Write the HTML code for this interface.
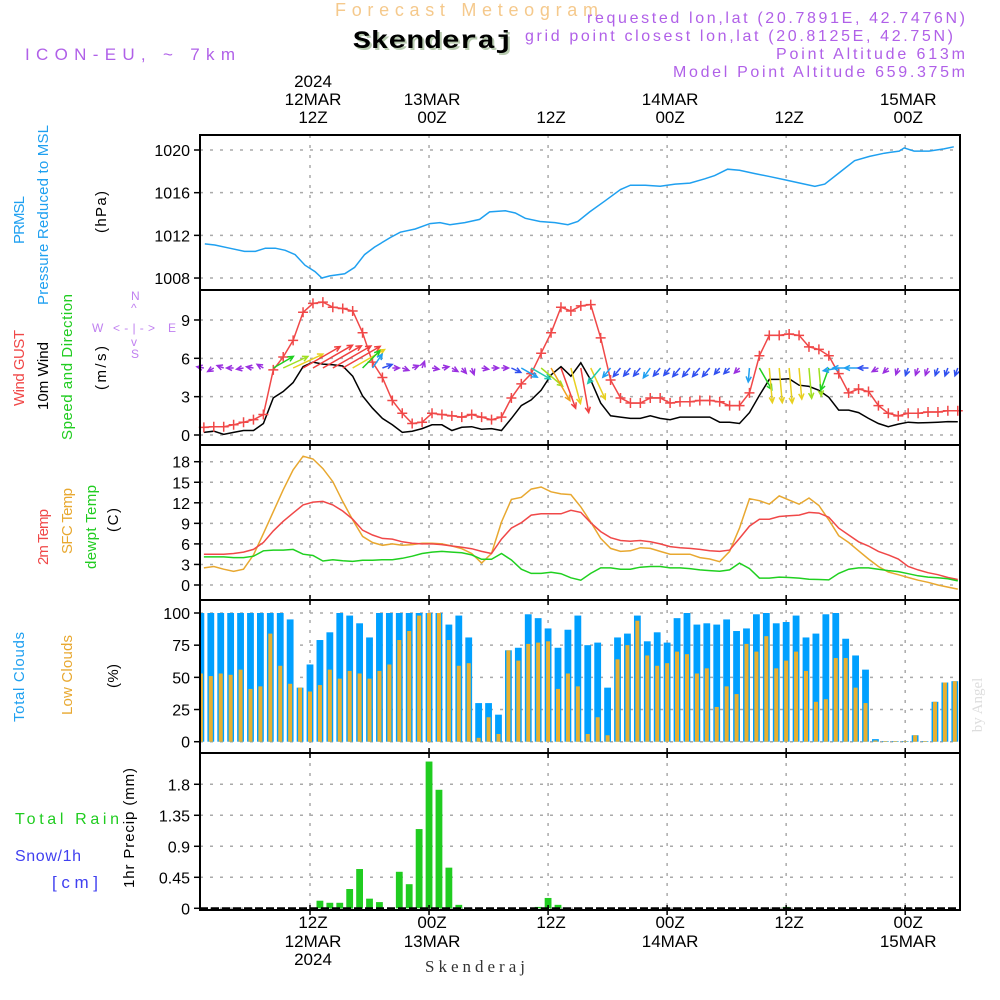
<!DOCTYPE html>
<html><head><meta charset="utf-8"><style>
html,body{margin:0;padding:0;background:#fff;}
svg{display:block;font-family:"Liberation Sans",sans-serif;}
</style></head><body>
<svg id="chart" width="1000" height="1000" viewBox="0 0 1000 1000" xmlns="http://www.w3.org/2000/svg">
<rect width="1000" height="1000" fill="#fff"/>
<g>
<text x="335" y="16" font-size="18" fill="#f5c98c" textLength="263" lengthAdjust="spacing">Forecast Meteogram</text>
<text x="355" y="50" font-family="Liberation Mono,monospace" font-weight="bold" font-size="25" fill="#b8cbb0" textLength="160" lengthAdjust="spacingAndGlyphs">Skenderaj</text>
<text x="353" y="48" font-family="Liberation Mono,monospace" font-weight="bold" font-size="25" fill="#000" textLength="160" lengthAdjust="spacingAndGlyphs">Skenderaj</text>
<text x="25" y="60" font-size="17" fill="#b060e8" textLength="210" lengthAdjust="spacing">ICON-EU, ~ 7km</text>
<text x="587" y="23" font-size="16" fill="#b060e8" textLength="378" lengthAdjust="spacing">requested lon,lat (20.7891E, 42.7476N)</text>
<text x="525" y="41" font-size="16" fill="#b060e8" textLength="428" lengthAdjust="spacing">grid point closest lon,lat (20.8125E, 42.75N)</text>
<text x="776" y="59" font-size="16" fill="#b060e8" textLength="189" lengthAdjust="spacing">Point Altitude 613m</text>
<text x="673" y="77" font-size="16" fill="#b060e8" textLength="292" lengthAdjust="spacing">Model Point Altitude 659.375m</text>
</g>
<g id="side" font-size="15"></g>
<g id="plot"></g>
<text transform="translate(982,705) rotate(-90)" text-anchor="middle" font-family="Liberation Serif,serif" font-size="15" fill="#ddd">by Angel</text>
<text x="475" y="972" text-anchor="middle" font-family="Liberation Serif,serif" font-size="17" fill="#333" textLength="100" lengthAdjust="spacing">Skenderaj</text>
</svg>
<script>
// ---- data (hour index 1..77 from 00Z 12MAR) ----
const hours = Array.from({length:77},(_,k)=>k+1);
const presHours = [1.4,2.4,3.9,5.4,6.5,7.5,8.5,9.5,10.5,11.5,12.5,13.2,14,15.5,16.5,17.5,18.5,20.1,21.1,22.6,24.1,25.1,26.1,27.6,29.1,30.1,31.7,32.7,33.7,35.2,36.7,38,39,40.2,41.7,43.3,44.3,45.8,47.3,48.8,50.3,51.8,52.8,54.1,55.3,56.8,58.4,59.9,61.4,62.9,63.9,65.4,66.9,68.4,69.9,71.4,71.9,72.9,74.4,75.9,76.9];
const pressure = [1011.2,1011.1,1010.8,1010.5,1010.5,1010.8,1010.8,1010.6,1010.2,1009.2,1008.6,1008.0,1008.2,1008.4,1009.0,1010.2,1010.9,1011.8,1012.3,1012.6,1013.1,1013.2,1013.0,1013.2,1013.5,1014.2,1014.3,1014.1,1013.6,1013.3,1013.2,1013.0,1013.3,1014.2,1015.2,1016.3,1016.7,1016.7,1016.6,1016.8,1016.9,1017.3,1017.6,1018.2,1018.1,1017.8,1017.5,1017.2,1016.9,1016.6,1016.8,1017.9,1019.0,1019.4,1019.7,1019.9,1020.2,1019.9,1019.9,1020.1,1020.3];
const gust = [0.6,0.65,0.65,0.8,1.0,1.2,1.6,5.1,6.1,7.4, 9.6,10.3,10.4,10.0,9.9,9.7,8.0,5.7,4.5,2.7, 1.7,0.9,1.0,1.7,1.6,1.5,1.4,1.6,1.4,1.2, 1.4,2.9,4.0,4.8,6.4,8.0,10.0,9.7,10.1,10.2, 7.6,4.3,2.9,2.5,2.5,2.9,2.9,2.5,2.6,2.6, 2.7,2.7,2.6,2.3,2.3,3.3,6.2,7.8,7.8,7.9, 7.8,6.9,6.7,6.2,4.8,3.3,3.6,3.4,2.3,1.7, 1.5,1.7,1.7,1.8,1.8,1.9,1.9];
const wind = [0.2,0.3,0.05,0.2,0.35,0.35,0.9,2.9,3.4,4.1, 5.35,5.7,5.55,5.5,5.4,4.6,3.05,2.1,1.3,0.8, 0.2,0.3,0.5,0.8,0.8,0.35,0.6,0.65,0.45,0.5, 0.35,1.3,2.3,2.75,3.5,4.7,5.35,4.6,5.65,4.3, 2.5,1.5,1.4,1.3,1.3,1.5,1.3,1.2,1.4,1.4, 1.4,1.4,1.0,1.0,0.9,1.75,3.1,4.35,4.35,4.4, 3.9,3.8,3.5,2.95,1.95,1.95,1.75,1.3,0.9,0.65, 0.85,1.0,0.95,0.97,1.0,1.05,1.03];
const windDir = [100,60,110,90,80,100,120,240,245,245, 240,240,240,240,240,240,225,215,250,270, 290,250,200,280,260,300,320,340,280,270, 270,295,300,300,310,330,340,345,350,335, 40,40,40,40,40,35,40,40,40,40, 40,40,40,45,45,5,330,355,355,355, 355,355,355,20,80,90,90,90,60,45, 20,20,20,20,20,20,20];
const temp2m = [4.5,4.5,4.5,4.6,4.8,5.2,6.2,7.9,9.3,10.5, 11.7,12.1,12.2,11.7,10.8,9.6,8.0,7.3,6.8,6.7, 6.3,6.1,6.0,6.0,5.9,5.7,5.5,5.3,4.9,4.6, 6.7,8.3,9.1,10.2,10.4,10.4,10.4,10.9,10.6,9.1, 7.8,6.9,6.5,6.4,6.5,6.3,6.0,5.6,5.45,5.35, 5.2,5.0,4.9,5.1,6.8,8.6,9.6,9.6,10.0,10.1, 10.2,10.6,10.5,9.9,8.3,7.3,6.3,5.7,4.9,4.4, 3.8,2.7,2.2,1.8,1.5,1.1,0.8];
const tempSfc = [2.5,2.7,2.3,2.0,2.3,4.4,7.5,10.7,13.9,16.8, 18.8,18.4,17.0,15.1,12.2,9.5,7.1,6.2,5.8,6.0, 5.8,5.9,6.1,6.1,6.0,5.7,5.3,4.6,3.2,4.6, 9.2,12.5,12.8,14.0,14.3,13.6,13.3,13.2,11.4,9.2, 6.8,5.35,4.9,5.0,5.45,5.35,4.9,4.5,4.5,4.5, 4.0,3.8,3.4,4.9,8.3,12.6,12.3,11.8,13.0,12.4, 11.8,12.7,11.6,9.5,7.2,6.2,5.0,3.8,2.7,1.9, 1.5,1.1,0.7,0.4,0,-0.3,-0.6];
const dewpt = [4.1,4.1,4.1,4.0,4.0,4.2,5.0,5.1,5.1,5.2, 4.5,4.3,3.5,3.7,3.55,3.45,3.6,3.6,3.7,3.7, 3.9,4.2,4.6,4.8,4.9,4.8,4.7,4.4,3.75,3.75, 4.6,3.65,2.3,1.7,1.7,1.85,1.65,1.05,0.7,1.7, 2.5,2.5,2.3,2.3,2.6,2.7,2.7,2.5,2.5,2.4, 2.2,2.1,2.0,2.2,3.2,2.4,1.0,1.0,1.15,1.1, 1.0,0.85,0.8,0.75,1.7,2.3,2.5,2.5,2.3,2.1, 1.95,1.65,1.35,1.15,1.05,0.9,0.6];
const totalClouds = [100,100,100,100,100,100,100,100,100,95, 42,60,79,85,100,98,92,81,100,100, 100,100,100,100,100,91,98,81,30,30, 21,71,73,99,96,88,73,87,98,75, 77,42,81,84,98,78,85,77,96,100, 91,92,91,95,86,88,99,100,92,93, 98,81,84,99,100,80,67,56,2,0.5, 0.5,0.5,5,0.5,31,46,47];
const lowClouds = [53,51,53,52,56,41,43,84,59,45, 42,39,44,56,49,55,53,49,55,60, 79,86,98,100,100,79,59,61,3,19, 6,71,63,76,77,78,41,53,43,6, 19,5,64,75,94,67,59,61,70,68, 53,57,27,43,37,76,70,82,57,63, 70,55,31,33,65,65,42,30,1,0.5, 0.5,0.5,5,0.5,31,46,47];
const precip = [0,0,0,0,0,0,0,0,0,0, 0,0,0.11,0.08,0.08,0.28,0.57,0.14,0.09,0, 0.53,0.35,1.15,2.13,1.72,0.59,0.05,0,0,0, 0,0,0,0,0.02,0.15,0.05,0,0,0, 0,0,0,0,0,0,0,0,0,0, 0,0,0,0,0,0,0,0,0,0.02, 0,0,0,0,0,0,0,0,0,0, 0,0,0,0,0,0,0];
const presTicks = [1008,1012,1016,1020];
const windTicks = [0,3,6,9];
const tempTicks = [0,3,6,9,12,15,18];
const cloudTicks = [0,25,50,75,100];
const precipTicks = [0,0.45,0.9,1.35,1.8];
const precipTickLabels = ["0","0.45","0.9","1.35","1.8"];
const timeHours = [12,24,36,48,60,72];
const timeTop = [["2024","12MAR","12Z"],["","13MAR","00Z"],["","","12Z"],["","14MAR","00Z"],["","","12Z"],["","15MAR","00Z"]];
const timeBottom = [["12Z","12MAR","2024"],["00Z","13MAR",""],["12Z","",""],["00Z","14MAR",""],["12Z","",""],["00Z","15MAR",""]];

// ---- scales ----
const NS="http://www.w3.org/2000/svg";
const X0=200,X1=960;
const xs=h=>310+(h-12)*9.92;
const lineH=i=>i+0.3;
const yPres=v=>150+(1020-v)*10.67;
const yWind=v=>435-v*12.78;
const yTemp=v=>585-v*6.85;
const yCloud=v=>741.7-v*1.287;
const yPrec=v=>908.3-v*68.9;
const panels=[[135,290],[290,445],[445,600],[600,753],[753,910]];

const plot=document.getElementById('plot');
const side=document.getElementById('side');
function mk(tag,attrs,parent){const e=document.createElementNS(NS,tag);for(const k in attrs)e.setAttribute(k,attrs[k]);(parent||plot).appendChild(e);return e;}

const defs=mk('defs',{});
panels.forEach((p,k)=>{const c=mk('clipPath',{id:'clip'+k},defs);mk('rect',{x:X0,y:p[0],width:X1-X0,height:p[1]-p[0]},c);});

function hgrid(ticks,yf,k,labels){
  ticks.forEach((t,j)=>{
    const y=yf(t);
    const g=mk('line',{x1:X0,x2:X1,y1:y,y2:y,stroke:'#aaa','stroke-width':1.5,'stroke-dasharray':'3,7'});
    
    
    const tk=mk('line',{x1:X0-6,x2:X0,y1:y,y2:y,stroke:'#000','stroke-width':1.5});
    
    
    const tx=mk('text',{x:190,y:y+6,'text-anchor':'end','font-size':16,fill:'#000'});
    
    
    tx.textContent=labels?labels[j]:String(t);
  });
}
panels.forEach((p,k)=>{
  timeHours.forEach(h=>{
    const v=mk('line',{x1:xs(h),x2:xs(h),y1:p[0],y2:p[1],stroke:'#aaa','stroke-width':1.5,'stroke-dasharray':'3,7'});
    
    
  });
});
hgrid(presTicks,yPres,0);
hgrid(windTicks,yWind,1);
hgrid(tempTicks,yTemp,2);
hgrid(cloudTicks,yCloud,3);
hgrid(precipTicks,yPrec,4,precipTickLabels);

function line(hs,vals,yf,color,name,clip){
  const d=vals.map((v,j)=>(j?'L':'M')+xs(hs[j]).toFixed(1)+','+yf(v).toFixed(1)).join('');
  const p=mk('path',{d:d,fill:'none',stroke:color,'stroke-width':1.5,'clip-path':'url(#clip'+clip+')'});
  
  
  return p;
}
line(presHours,pressure,yPres,'#1fa0f0','pressure-line',0);

line(hours.map(lineH),wind,yWind,'#000','wind-speed-line',1);
line(hours.map(lineH),gust,yWind,'#f04848','wind-gust-line',1);
gust.forEach((v,j)=>{
  const x=xs(lineH(hours[j])),y=yWind(v);
  const m=mk('path',{d:`M${x-5},${y}H${x+5}M${x},${y-5}V${y+5}`,stroke:'#f04848','stroke-width':1.5});
  
  
});
function wcol(s){if(s<1)return'#9a30e0';if(s<1.5)return'#3050f0';if(s<2.4)return'#20a0f0';if(s<2.9)return'#20c8b0';if(s<3.3)return'#20d020';if(s<3.9)return'#a0e020';if(s<4.7)return'#e8d020';if(s<5.2)return'#f0a020';return'#f04040';}
wind.forEach((s,j)=>{
  const d=windDir[j]*Math.PI/180;
  const L=Math.max(7,8*s);
  const x0=xs(lineH(hours[j])),y0=368;
  const ux=-Math.sin(d),uy=Math.cos(d);
  const x1=x0+ux*L,y1=y0+uy*L;
  const a=0.45,hl=6;
  const bx=-ux,by=-uy;
  const h1x=x1+hl*(bx*Math.cos(a)-by*Math.sin(a)),h1y=y1+hl*(bx*Math.sin(a)+by*Math.cos(a));
  const h2x=x1+hl*(bx*Math.cos(-a)-by*Math.sin(-a)),h2y=y1+hl*(bx*Math.sin(-a)+by*Math.cos(-a));
  const ar=mk('path',{d:`M${x0},${y0}L${x1},${y1}M${h1x},${h1y}L${x1},${y1}L${h2x},${h2y}`,fill:'none',stroke:wcol(s),'stroke-width':1.5});
  
  
});

line(hours.map(lineH),tempSfc,yTemp,'#e8a830','sfc-temp-line',2);
line(hours.map(lineH),temp2m,yTemp,'#f04848','temp-2m-line',2);
line(hours.map(lineH),dewpt,yTemp,'#20d020','dewpoint-line',2);

totalClouds.forEach((v,j)=>{
  const x=xs(hours[j]);
  const b=mk('rect',{x:x-3.4,y:yCloud(v),width:6.8,height:yCloud(0)-yCloud(v),fill:'#00a0ff','clip-path':'url(#clip3)'});
  
  
});
lowClouds.forEach((v,j)=>{
  const x=xs(hours[j]);
  const b=mk('rect',{x:x-2,y:yCloud(v),width:4,height:yCloud(0)-yCloud(v),fill:'#e8b030','clip-path':'url(#clip3)'});
  
  
});

precip.forEach((v,j)=>{
  if(v<=0)return;
  const x=xs(hours[j]);
  const b=mk('rect',{x:x-3.4,y:yPrec(v),width:6.8,height:yPrec(0)-yPrec(v),fill:'#20cc20'});
  
  
});
const zl=mk('line',{x1:X0,x2:X1,y1:908.3,y2:908.3,stroke:'#000','stroke-width':2,'stroke-dasharray':'8,3'});



panels.forEach(p=>{
  const r=mk('rect',{x:X0,y:p[0],width:X1-X0,height:p[1]-p[0],fill:'none',stroke:'#000','stroke-width':2});
  
  
  timeHours.forEach(h=>{
    const t=mk('line',{x1:xs(h),x2:xs(h),y1:p[1]-5,y2:p[1]+5,stroke:'#000','stroke-width':1.5});
    
    
  });
});

timeHours.forEach((h,j)=>{
  [87,105,123].forEach((y,r)=>{
    const s=timeTop[j][r]; if(!s)return;
    const t=mk('text',{x:xs(h)+3,y:y,'text-anchor':'middle','font-size':17,fill:'#000'});
    
    
    t.textContent=s;
  });
  [928,947,965].forEach((y,r)=>{
    const s=timeBottom[j][r]; if(!s)return;
    const t=mk('text',{x:xs(h)+3,y:y,'text-anchor':'middle','font-size':17,fill:'#000'});
    
    
    t.textContent=s;
  });
});

function vt(txt,x,cy,len,color,name){
  const t=mk('text',{transform:`translate(${x},${cy}) rotate(-90)`,'text-anchor':'middle','font-size':15,fill:color,textLength:len,lengthAdjust:'spacing'},side);
  
  
  t.textContent=txt;
}
vt('PRMSL',24,220,48,'#1fa0f0','prmsl-title');
vt('Pressure Reduced to MSL',48,215,180,'#1fa0f0','pressure-title');
vt('(hPa)',106,212,42,'#000','pressure-unit');
vt('Wind GUST',24,368,76,'#f04848','gust-title');
vt('10m Wind',48,376,68,'#000','wind-title');
vt('Speed and Direction',72,367,146,'#20cc20','direction-title');
vt('(m/s)',106,368,44,'#000','wind-unit');
vt('2m Temp',48,537,56,'#f04848','temp-2m-title');
vt('SFC Temp',72,521,66,'#e8a830','sfc-temp-title');
vt('dewpt Temp',96,527,84,'#20cc20','dewpt-title');
vt('(C)',118,520,24,'#000','temp-unit');
vt('Total Clouds',24,677,90,'#1fa0f0','total-clouds-title');
vt('Low Clouds',72,675,80,'#e8a830','low-clouds-title');
vt('(%)',118,676,24,'#000','cloud-unit');
vt('1hr Precip (mm)',134,828,120,'#000','precip-title');
function ht(txt,x,y,len,color,name,fs){
  const t=mk('text',{x:x,y:y,'font-size':fs||15,fill:color,textLength:len,lengthAdjust:'spacing'},side);
  
  
  t.textContent=txt;
}
ht('Total  Rain',15,824,104,'#20cc20','rain-title',16);
ht('Snow/1h',15,861,66,'#4040f0','snow-title',16);
ht('[cm]',52,888,46,'#4040f0','snow-unit',17);
const cc='#c080f0';
ht('N',131,300,9,cc,'compass-n',12);
ht('^',131,312,9,cc,'compass-up',12);
ht('W',92,332,10,cc,'compass-w',12);
ht('< - | - >',113,332,42,cc,'compass-arrows',12);
ht('E',168,332,9,cc,'compass-e',12);
ht('v',131,346,9,cc,'compass-down',12);
ht('S',131,358,9,cc,'compass-s',12);
</script>
</body></html>
